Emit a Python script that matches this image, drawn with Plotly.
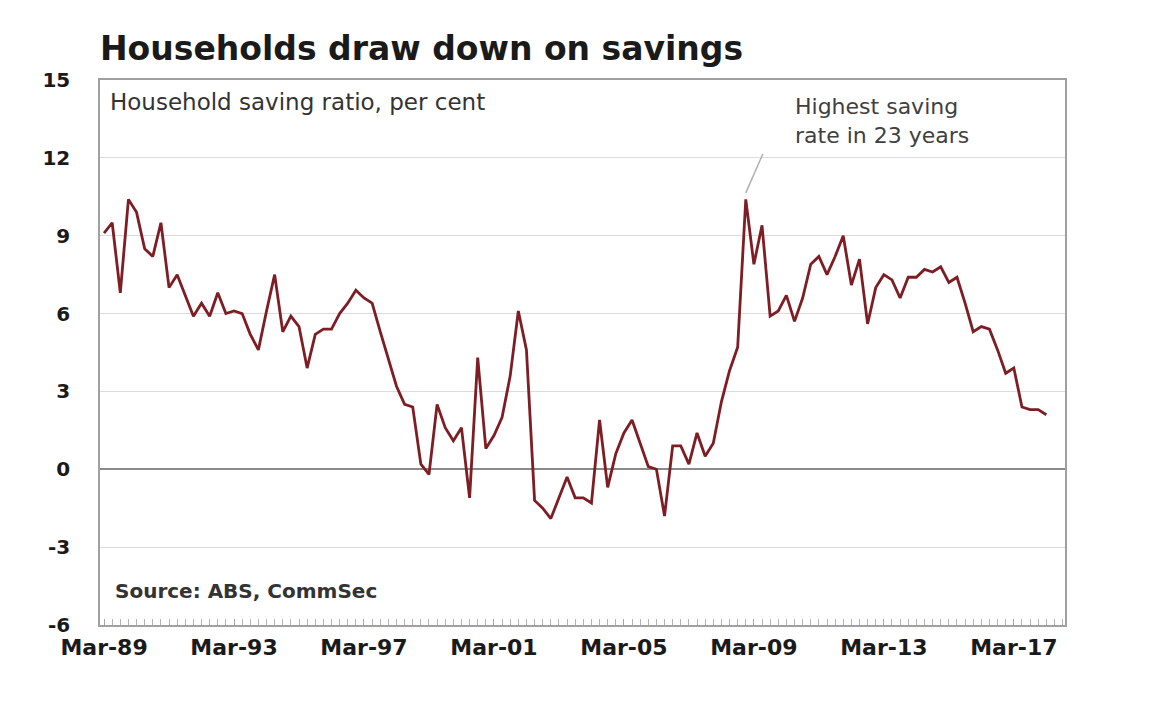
import plotly.graph_objects as go

# Quarterly household saving ratio, per cent (Mar-89 .. Mar-18)
months = ["Mar", "Jun", "Sep", "Dec"]
years = list(range(1989, 2019))
quarters = [f"{m}-{str(y)[2:]}" for y in years for m in months][:117]

saving_ratio = [
    9.1, 9.5, 6.8, 10.4, 9.9, 8.5, 8.2, 9.5, 7.0, 7.5,
    6.7, 5.9, 6.4, 5.9, 6.8, 6.0, 6.1, 6.0, 5.2, 4.6,
    6.1, 7.5, 5.3, 5.9, 5.5, 3.9, 5.2, 5.4, 5.4, 6.0,
    6.4, 6.9, 6.6, 6.4, 5.3, 4.2, 3.2, 2.5, 2.4, 0.2,
    -0.2, 2.5, 1.6, 1.1, 1.6, -1.1, 4.3, 0.8, 1.3, 2.0,
    3.6, 6.1, 4.6, -1.2, -1.5, -1.9, -1.1, -0.3, -1.1, -1.1,
    -1.3, 1.9, -0.7, 0.6, 1.4, 1.9, 1.0, 0.1, 0.0, -1.8,
    0.9, 0.9, 0.2, 1.4, 0.5, 1.0, 2.6, 3.8, 4.7, 10.4,
    7.9, 9.4, 5.9, 6.1, 6.7, 5.7, 6.6, 7.9, 8.2, 7.5,
    8.2, 9.0, 7.1, 8.1, 5.6, 7.0, 7.5, 7.3, 6.6, 7.4,
    7.4, 7.7, 7.6, 7.8, 7.2, 7.4, 6.4, 5.3, 5.5, 5.4,
    4.6, 3.7, 3.9, 2.4, 2.3, 2.3, 2.1,
]

x_tick_labels = ["Mar-89", "Mar-93", "Mar-97", "Mar-01", "Mar-05", "Mar-09", "Mar-13", "Mar-17"]
y_ticks = [-6, -3, 0, 3, 6, 9, 12, 15]
peak_label = "Dec-08"

FONT = "DejaVu Sans, Arial, sans-serif"
x_idx = list(range(len(saving_ratio)))
peak_i = quarters.index(peak_label)
peak_v = saving_ratio[peak_i]

fig = go.Figure()
fig.add_trace(go.Scatter(
    x=x_idx, y=saving_ratio, mode="lines",
    line=dict(color="#7e1d23", width=2.8),
    customdata=quarters,
    hovertemplate="%{customdata}: %{y}%<extra></extra>",
    showlegend=False,
))

# pointer from the annotation text down to the peak
fig.add_shape(type="line", xref="x", yref="y",
              x0=peak_i, y0=peak_v + 0.25, x1=peak_i + 2.1, y1=peak_v + 1.75,
              line=dict(color="#b0b0b0", width=1.5))

fig.update_layout(
    width=1160, height=704,
    margin=dict(l=92, r=103, t=72, b=87),
    paper_bgcolor="white", plot_bgcolor="white",
    title=dict(
        text="<b>Households draw down on savings</b>",
        x=92 / 1160, xanchor="left", xref="container",
        y=1 - 40 / 704, yanchor="middle", yref="container",
        font=dict(family=FONT, size=33, color="#1a1a1a"),
    ),
    xaxis=dict(
        range=[-0.5, 118.3],
        tickmode="array",
        tickvals=[quarters.index(t) for t in x_tick_labels],
        ticktext=[f"<b>{t}</b>" for t in x_tick_labels],
        tickfont=dict(family=FONT, size=22, color="#1a1a1a"),
        ticks="inside", ticklen=6, tickcolor="#a6a6a6",
        minor=dict(tickmode="linear", tick0=0, dtick=1, ticks="inside",
                   ticklen=6, tickcolor="#b3b3b3"),
        showgrid=False, zeroline=False,
        showline=True, linecolor="#a0a0a0", linewidth=1.5, mirror=True,
        ticklabelstandoff=2,
    ),
    yaxis=dict(
        range=[-6, 15],
        tickmode="array",
        tickvals=y_ticks,
        ticktext=[f"<b>{v}</b>" for v in y_ticks],
        tickfont=dict(family=FONT, size=20, color="#1a1a1a"),
        showgrid=True, gridcolor="#dcdcdc", gridwidth=1,
        zeroline=True, zerolinecolor="#8a8a8a", zerolinewidth=1.5,
        showline=True, linecolor="#a0a0a0", linewidth=1.5, mirror=True,
        ticks="", ticklabelstandoff=24,
    ),
    font=dict(family=FONT),
    annotations=[
        dict(text="Household saving ratio, per cent",
             xref="paper", yref="paper", x=0.008, y=(625 - 102) / 545,
             xanchor="left", yanchor="middle", showarrow=False,
             font=dict(family=FONT, size=23, color="#333333")),
        dict(text="Highest saving<br>rate in 23 years",
             xref="paper", yref="paper", x=(793 - 100) / 965, y=(625 - 121) / 545,
             xanchor="left", yanchor="middle", align="left", showarrow=False,
             font=dict(family=FONT, size=22, color="#404040")),
        dict(text="<b>Source: ABS, CommSec</b>",
             xref="paper", yref="paper", x=(113 - 100) / 965, y=(625 - 591) / 545,
             xanchor="left", yanchor="middle", showarrow=False,
             font=dict(family=FONT, size=20, color="#333333")),
    ],
)

fig.write_html("out.html")
